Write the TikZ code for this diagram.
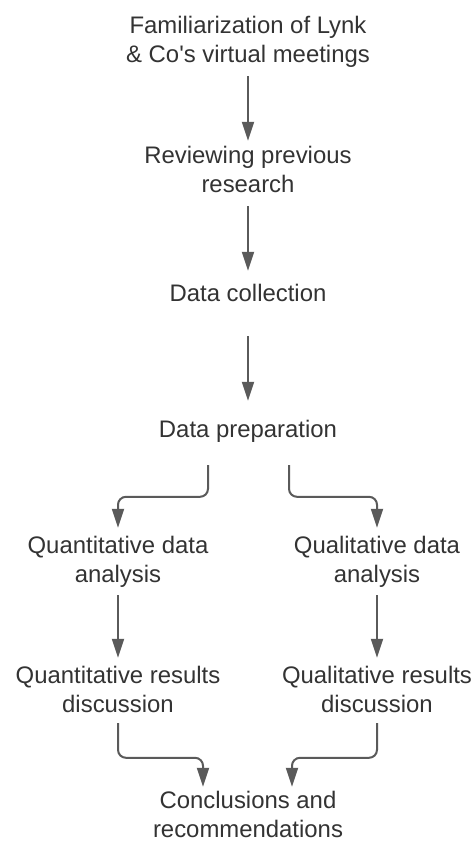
\documentclass[tikz,border=0pt]{standalone}
\usepackage{fontspec}
\setmainfont{Liberation Sans}[Ligatures=TeXOff]
\usetikzlibrary{arrows.meta}
\definecolor{txt}{HTML}{333333}
\definecolor{ln}{HTML}{5A5A5A}
\newcommand{\ml}[1]{\fontsize{23.9pt}{29pt}\selectfont\begin{tabular}[t]{@{}c@{}}#1\end{tabular}}
\tikzset{
  lbl/.style={anchor=base, inner sep=0pt, text=txt},
  arr/.style={draw=ln, line width=2pt, -{Triangle[length=19pt,width=12pt]}, rounded corners=8pt}
}
\begin{document}
\begin{tikzpicture}[x=1pt,y=1pt]
\useasboundingbox[fill=white] (0,0) rectangle (475,-841);
\node[lbl] (fam) at (248,-33.5) {\ml{Familiarization of Lynk\\ \& Co's virtual meetings}};
\node[lbl] (rev) at (248,-163.5) {\ml{Reviewing previous\\ research}};
\node[lbl] (dc) at (248,-301) {\ml{Data collection}};
\node[lbl] (dp) at (248,-437) {\ml{Data preparation}};
\node[lbl] (qa) at (118,-553.5) {\ml{Quantitative data\\ analysis}};
\node[lbl] (qla) at (377,-553.5) {\ml{Qualitative data\\ analysis}};
\node[lbl] (qr) at (118,-683.5) {\ml{Quantitative results\\ discussion}};
\node[lbl] (qlr) at (377,-683.5) {\ml{Qualitative results\\ discussion}};
\node[lbl] (con) at (248,-808) {\ml{Conclusions and\\ recommendations}};

\draw[arr] ([yshift=-5pt]fam.south) -- ([yshift=2.2pt]rev.north);
\draw[arr] ([yshift=-5pt]rev.south) -- ([yshift=9.7pt]dc.north);
\draw[arr] ([yshift=-26.3pt]dc.south) -- ([yshift=15.7pt]dp.north);

\draw[arr] ([xshift=-40pt,yshift=-19.3pt]dp.south) |- ([yshift=36.2pt]qa.north) -- ([yshift=5.2pt]qa.north);
\draw[arr] ([xshift=41pt,yshift=-19.3pt]dp.south) |- ([yshift=36.2pt]qla.north) -- ([yshift=5.2pt]qla.north);

\draw[arr] ([yshift=-3.8pt]qa.south) -- ([yshift=5.2pt]qr.north);
\draw[arr] ([yshift=-3.8pt]qla.south) -- ([yshift=5.2pt]qlr.north);

\draw[arr] ([yshift=-1.8pt]qr.south) |- ([xshift=-45pt,yshift=29.7pt]con.north) -- ([xshift=-45pt,yshift=0.7pt]con.north);
\draw[arr] ([yshift=-1.8pt]qlr.south) |- ([xshift=44pt,yshift=29.7pt]con.north) -- ([xshift=44pt,yshift=0.7pt]con.north);
\end{tikzpicture}
\end{document}
